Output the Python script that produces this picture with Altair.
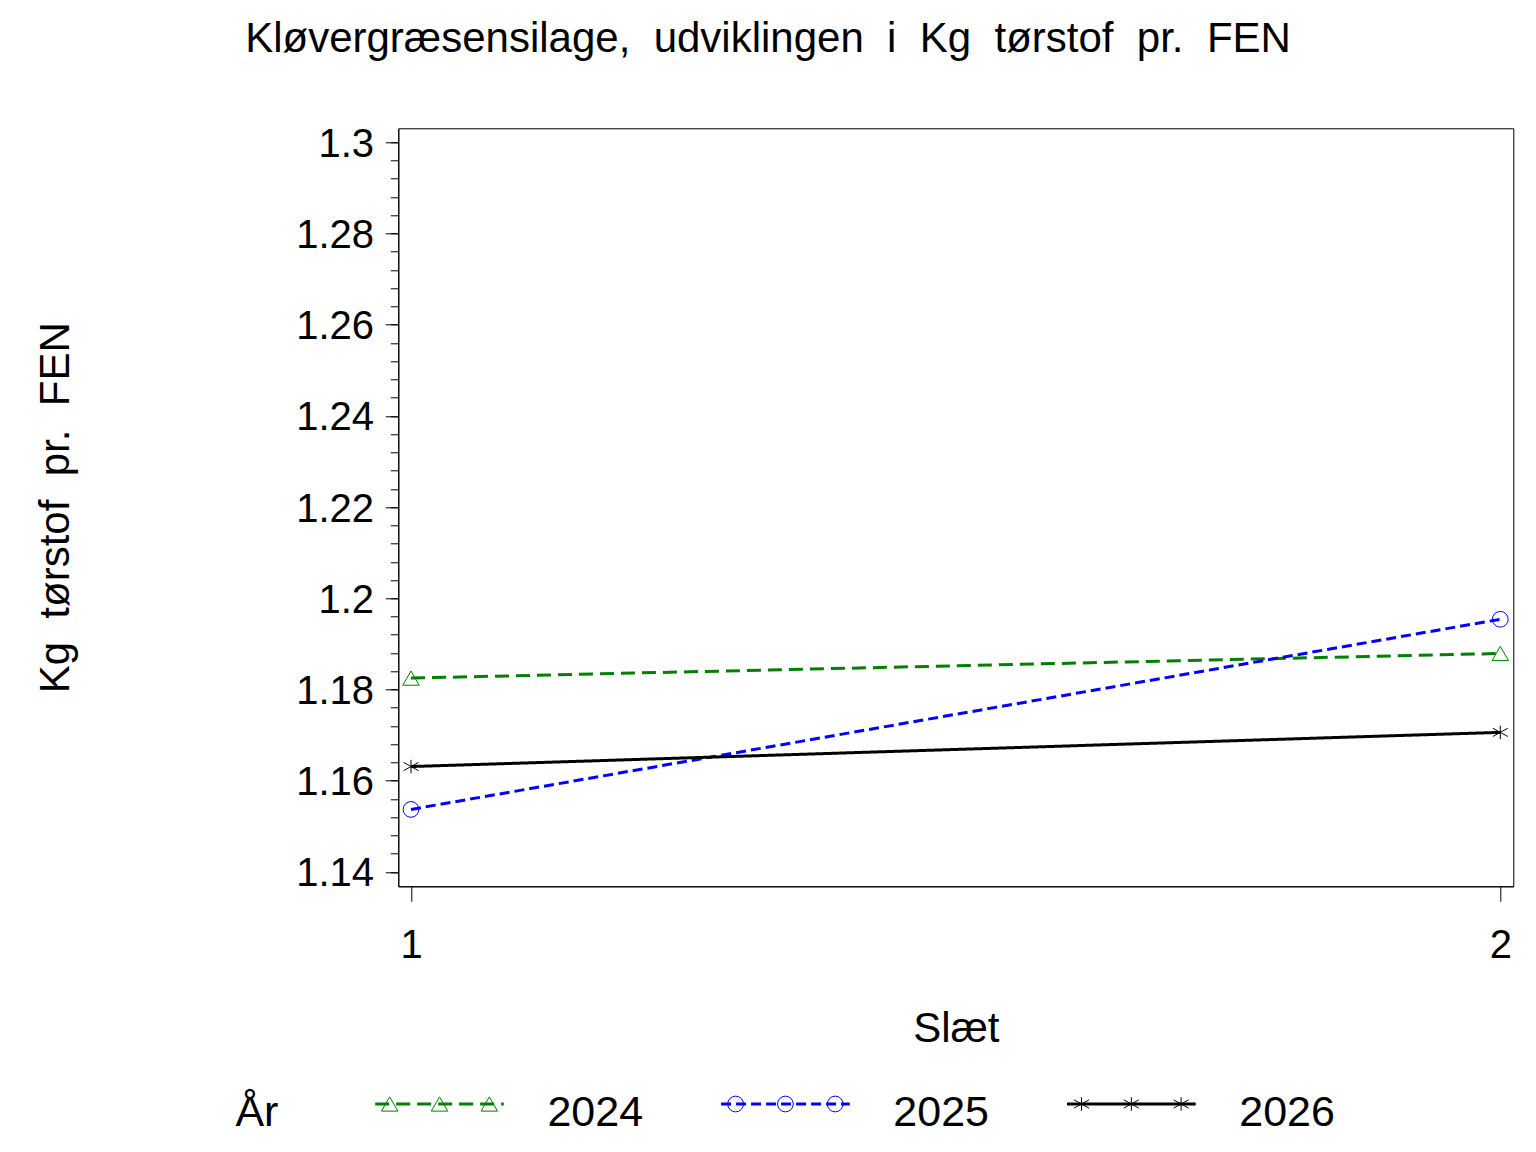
import altair as alt
import pandas as pd

# ---------------- data ----------------
slaet = [1, 2]
years = ["2024", "2025", "2026"]
kg_2024 = [1.1825, 1.1879]
kg_2025 = [1.1537, 1.1954]
kg_2026 = [1.1631, 1.1706]

y_major = [1.14, 1.16, 1.18, 1.2, 1.22, 1.24, 1.26, 1.28, 1.3]
y_minor = [round(1.14 + 0.004 * i, 3) for i in range(41)]
x_ticks = [1, 2]

title_text = "Kløvergræsensilage,\u00a0 udviklingen\u00a0 i\u00a0 Kg\u00a0 tørstof\u00a0 pr.\u00a0 FEN"
y_title = "Kg\u00a0 tørstof\u00a0 pr.\u00a0 FEN"
x_title = "Slæt"
legend_title = "År"

# ---------------- styles ----------------
F = "Liberation Sans"
colors = ["#008000", "#0000FF", "#000000"]
dashes = [[14, 7], [10, 5], [1, 0]]
star = "M0,-0.9L0,0.9M-1,-0.55L1,0.55M-1,0.55L1,-0.55"
shapes = ["triangle-up", "circle", star]
sizes = [270, 225, 300]

df = pd.DataFrame({
    "slaet": slaet * 3,
    "aar": [y for y in years for _ in slaet],
    "kg": kg_2024 + kg_2025 + kg_2026,
})

xs = alt.Scale(domain=[0.98834, 2.01193], nice=False, zero=False)
ys = alt.Scale(domain=[1.13684, 1.30307], nice=False, zero=False)
color_s = alt.Scale(domain=years, range=colors)
dash_s = alt.Scale(domain=years, range=dashes)
shape_s = alt.Scale(domain=years, range=shapes)
size_s = alt.Scale(domain=years, range=sizes)

lines = alt.Chart(df).mark_line(strokeWidth=3).encode(
    x=alt.X("slaet:Q", scale=xs, axis=alt.Axis(
        orient="bottom", values=x_ticks, format="d", tickSize=15,
        labelFontSize=40, labelBaseline="alphabetic", labelPadding=56.3,
        labelFlush=False, title=x_title, titleFontSize=42,
        titleFontWeight="normal", titleY=155.3, titleBaseline="alphabetic")),
    y=alt.Y("kg:Q", scale=ys, axis=alt.Axis(
        orient="left", values=y_major, format=".2~f", tickSize=13,
        labelFontSize=40, labelPadding=11.7, labelFlush=False,
        labelBaseline="middle", labelOffset=2, title=y_title, titleFontSize=42,
        titleFontWeight="normal", titleX=-330.3, titleBaseline="alphabetic")),
    color=alt.Color("aar:N", scale=color_s, legend=None),
    strokeDash=alt.StrokeDash("aar:N", scale=dash_s, legend=None),
)

points = alt.Chart(df).mark_point(filled=False, strokeWidth=1, opacity=1).encode(
    x=alt.X("slaet:Q", scale=xs, axis=None),
    y=alt.Y("kg:Q", scale=ys, axis=alt.Axis(
        orient="left", values=y_minor, labels=False, tickSize=8,
        domain=False, title=None)),
    color=alt.Color("aar:N", scale=color_s, legend=None),
    shape=alt.Shape("aar:N", scale=shape_s, legend=None),
    size=alt.Size("aar:N", scale=size_s, legend=None),
)

# ---------------- legend (drawn below the plot) ----------------
leg = pd.DataFrame({"aar": years, "slot": [0, 1, 2]})
leg["x0"] = leg["slot"] - 0.186
leg["x1"] = leg["slot"] + 0.186
leg["lab"] = leg["slot"] + 0.312
leg["row"] = 0

leg_pts = pd.DataFrame([
    {"aar": y, "px": s + o, "row": 0}
    for y, s in zip(years, [0, 1, 2]) for o in (-0.144, 0.0, 0.144)
])
leg_head = pd.DataFrame({"txt": [legend_title], "px": [-0.590], "row": [0]})

lxs = alt.Scale(domain=[-0.1191, 3.1043], nice=False, zero=False)
lys = alt.Scale(domain=[0.2872, 1.2872], nice=False, zero=False)

leg_rule = alt.Chart(leg).mark_rule(strokeWidth=3).encode(
    x=alt.X("x0:Q", scale=lxs, axis=None),
    x2="x1:Q",
    y=alt.Y("row:Q", scale=lys, axis=None),
    color=alt.Color("aar:N", scale=color_s, legend=None),
    strokeDash=alt.StrokeDash("aar:N", scale=dash_s, legend=None),
)
leg_marks = alt.Chart(leg_pts).mark_point(filled=False, strokeWidth=1, opacity=1).encode(
    x=alt.X("px:Q", scale=lxs, axis=None),
    y=alt.Y("row:Q", scale=lys, axis=None),
    color=alt.Color("aar:N", scale=color_s, legend=None),
    shape=alt.Shape("aar:N", scale=shape_s, legend=None),
    size=alt.Size("aar:N", scale=size_s, legend=None),
)
leg_text = alt.Chart(leg).mark_text(
    align="left", baseline="alphabetic", dy=22, fontSize=43, font=F, color="black"
).encode(
    x=alt.X("lab:Q", scale=lxs, axis=None),
    y=alt.Y("row:Q", scale=lys, axis=None),
    text="aar:N",
)
leg_title = alt.Chart(leg_head).mark_text(
    align="left", baseline="alphabetic", dy=22, fontSize=43, font=F, color="black"
).encode(
    x=alt.X("px:Q", scale=lxs, axis=None),
    y=alt.Y("row:Q", scale=lys, axis=None),
    text="txt:N",
)

chart = alt.layer(
    lines, points, leg_rule, leg_marks, leg_text, leg_title
).resolve_scale(
    x="independent", y="independent"
).properties(
    width=1115,
    height=758,
    autosize=alt.AutoSizeParams(type="none"),
    padding={"left": 390.3, "top": 120.3, "right": 14.7, "bottom": 257.7},
    title=alt.TitleParams(
        text=title_text, fontSize=42, font=F, fontWeight="normal",
        anchor="middle", frame="group", dx=-187.8, offset=30,
        baseline="alphabetic", color="black"),
).configure_view(
    stroke="black", strokeWidth=1
).configure_axis(
    grid=False, domainColor="black", tickColor="black", labelColor="black",
    titleColor="black", labelFont=F, titleFont=F, domainWidth=1, tickWidth=1,
)

chart.save("out.html", embed_options={"renderer": "svg", "actions": False})
